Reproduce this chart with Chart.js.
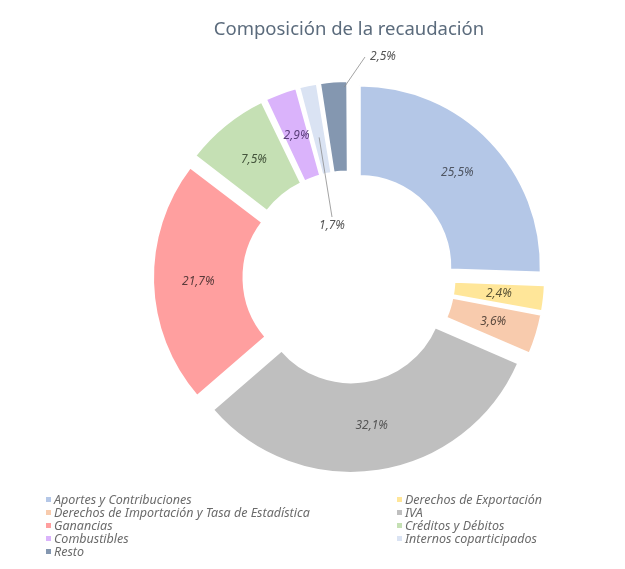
<!DOCTYPE html>
<html>
<head>
<meta charset="utf-8">
<script src="https://cdn.jsdelivr.net/npm/chart.js@4.4.1/dist/chart.umd.min.js"></script>
<style>
  html, body { margin: 0; padding: 0; background: #fff; }
  #wrap { position: relative; width: 625px; height: 569px; }
  #chart { position: absolute; left: 0; top: 0; }
  #legend {
    position: absolute; left: 46px; top: 493px; width: 570px;
    display: grid; grid-template-columns: 351px 210px;
    font: italic 12.5px "Noto Sans", sans-serif; color: #6b6b6b; line-height: 13px;
    white-space: nowrap;
  }
  #legend .box { display: inline-block; width: 5px; height: 5px; margin-right: 3px; vertical-align: 2px; }
</style>
</head>
<body>
<div id="wrap">
  <canvas id="chart" width="625" height="569"></canvas>
  <div id="legend"></div>
</div>
<script>
"use strict";

const categories = [
  'Aportes y Contribuciones',
  'Derechos de Exportación',
  'Derechos de Importación y Tasa de Estadística',
  'IVA',
  'Ganancias',
  'Créditos y Débitos',
  'Combustibles',
  'Internos coparticipados',
  'Resto',
];
const shares = [25.5, 2.4, 3.6, 32.1, 21.7, 7.5, 2.9, 1.7, 2.5];
const colors = ['#b4c7e7', '#ffe699', '#f8cbad', '#bfbfbf', '#ff9f9f', '#c5e0b4', '#dab3fb', '#dae3f3', '#8497b0'];

const fmt = v => v.toFixed(1).replace('.', ',') + '%';
const total = shares.reduce((a, b) => a + b, 0);

// chart.js pushes thin slices out twice as far (translate + radius shift),
// so give each slice an offset that ends up as the same ~15px push
const PUSH = 15;
const fixOf = circ => 1 - Math.sin(Math.min(Math.PI, circ));
const offsets = shares.map(v => PUSH * 4 / (1 + fixOf(v / total * 2 * Math.PI)));

const pctLabels = {
  id: 'pctLabels',
  afterDatasetsDraw(chart, args, opts) {
    const ctx = chart.ctx;
    const meta = chart.getDatasetMeta(0);
    ctx.save();
    ctx.font = 'italic 12px "Noto Sans", sans-serif';
    ctx.textAlign = 'center';
    ctx.textBaseline = 'middle';
    meta.data.forEach((arc, i) => {
      const p = arc.getProps(['x', 'y', 'startAngle', 'endAngle', 'innerRadius', 'outerRadius', 'circumference']);
      const mid = (p.startAngle + p.endAngle) / 2;
      const push = arc.options.offset / 4 * (1 + fixOf(p.circumference));
      const cx = p.x + Math.cos(mid) * push;
      const cy = p.y + Math.sin(mid) * push;
      const r = (p.innerRadius + p.outerRadius) / 2;
      ctx.fillStyle = opts.colors[i] || '#505050';
      const call = opts.callouts[i];
      if (call) {
        const rr = call.fromOuter ? p.outerRadius - 6 : r - 8;
        const a = call.fromOuter ? p.endAngle - 0.02 : mid;
        const lx = p.x + call.dx, ly = p.y + call.dy;
        ctx.strokeStyle = '#8c8c8c';
        ctx.lineWidth = 0.8;
        ctx.beginPath();
        ctx.moveTo(cx + Math.cos(a) * rr, cy + Math.sin(a) * rr);
        ctx.lineTo(lx + call.lineDx, ly + call.lineDy);
        ctx.stroke();
        ctx.fillText(fmt(shares[i]), lx + call.textDx, ly);
        return;
      }
      ctx.fillText(fmt(shares[i]), cx + Math.cos(mid) * r, cy + Math.sin(mid) * r);
    });
    ctx.restore();
  }
};

new Chart(document.getElementById('chart').getContext('2d'), {
  type: 'doughnut',
  data: {
    labels: categories,
    datasets: [{
      data: shares,
      backgroundColor: colors,
      borderColor: '#ffffff',
      borderWidth: 2,
      offset: offsets,
    }],
  },
  options: {
    responsive: false,
    animation: false,
    cutout: '50%',
    layout: { padding: { left: 137, right: 64, top: 0, bottom: 80 } },
    plugins: {
      legend: { display: false },
      tooltip: { enabled: false },
      title: {
        display: true,
        text: 'Composición de la recaudación',
        color: '#5b6b7c',
        font: { family: '"Noto Sans", sans-serif', size: 18.5, weight: 'normal' },
        padding: { top: 19, bottom: 23.8 },
      },
      pctLabels: {
        colors: ['#4f5663', '#5b5436', '#5c4a3e', '#555555', '#5a3b3b', '#46563d', '#5a3f7a', '#555555', '#555555'],
        callouts: {
          7: { dx: -17, dy: -51, lineDx: 0, lineDy: -9, textDx: 0 },
          8: { fromOuter: true, dx: 16, dy: -220, lineDx: 0, lineDy: 0, textDx: 18 },
        },
      },
    },
  },
  plugins: [pctLabels],
});

const legend = document.getElementById('legend');
categories.forEach((name, i) => {
  const item = document.createElement('div');
  item.innerHTML = '<span class="box" style="background:' + colors[i] + '"></span>' + name;
  legend.appendChild(item);
});
</script>
</body>
</html>
